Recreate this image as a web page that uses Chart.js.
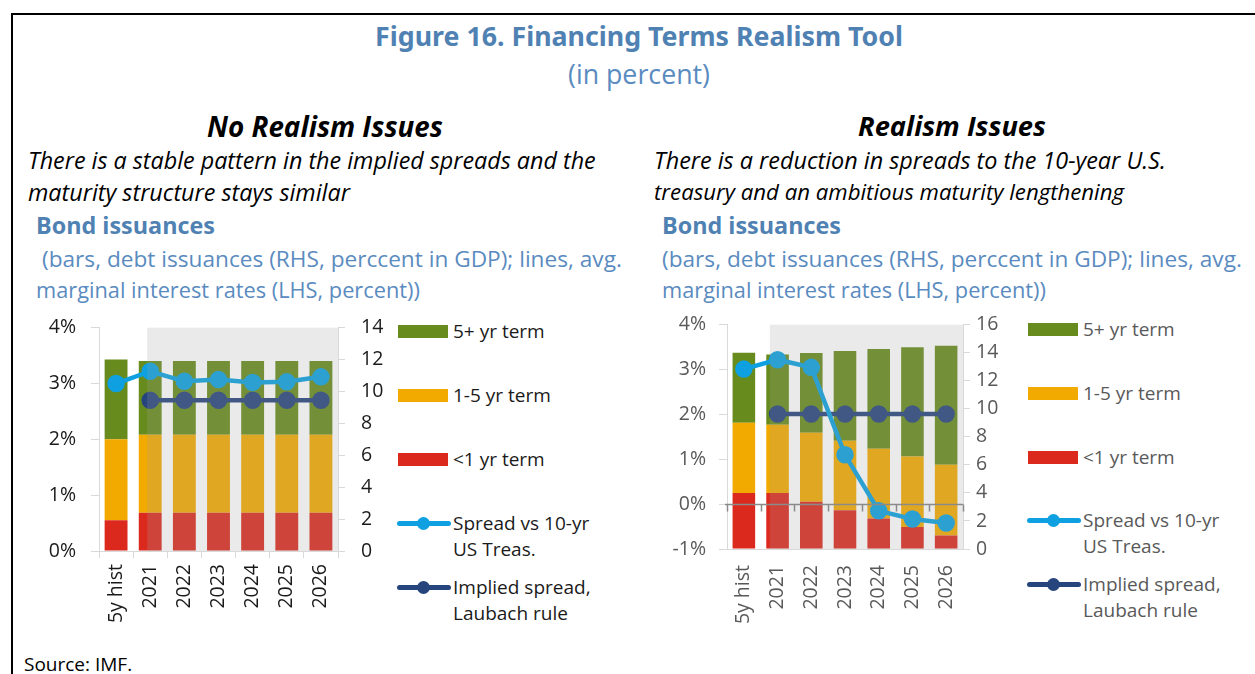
<!DOCTYPE html>
<html>
<head>
<meta charset="utf-8">
<script src="https://cdn.jsdelivr.net/npm/chart.js@4.4.1/dist/chart.umd.min.js"></script>
<style>
  body { margin: 0; background: #fff; font-family: "Open Sans", sans-serif; }
  #page { position: relative; width: 1255px; height: 674px; overflow: hidden; }
  #frame { position: absolute; left: 11px; top: 13px; width: 1300px; height: 700px; border: 2px solid #000; }
  .t { position: absolute; white-space: nowrap; }
  .c { transform: translateX(-50%); }
  .box { position: absolute; width: 312px; height: 340px; }
  .leg { position: absolute; font-size: 19px; line-height: 26px; white-space: nowrap; }
</style>
</head>
<body>
<div id="page">
  <div id="frame"></div>
  <div class="t c" data-w="528" style="left:639px;top:17px;font-size:26px;font-weight:bold;color:#4f81b3;font-family:'Noto Sans';">Figure 16. Financing Terms Realism Tool</div>
  <div class="t c" data-w="142" style="left:639px;top:55px;font-size:23px;color:#5a8bc0;">(in percent)</div>

  <div class="t c" data-w="236" style="left:325px;top:107px;font-size:25px;font-weight:bold;font-style:italic;">No Realism Issues</div>
  <div class="t" data-w="568" style="left:28px;top:144px;font-size:21px;font-style:italic;">There is a stable pattern in the implied spreads and the</div>
  <div class="t" data-w="322" style="left:28px;top:176px;font-size:21px;font-style:italic;">maturity structure stays similar</div>
  <div class="t" data-w="179" style="left:36px;top:209px;font-size:22px;font-weight:bold;color:#4f81b3;">Bond issuances</div>
  <div class="t" data-w="580" style="left:42px;top:243px;font-size:20px;color:#5a8bc0;">(bars, debt issuances (RHS, perccent in GDP); lines, avg.</div>
  <div class="t" data-w="384" style="left:36px;top:275px;font-size:20px;color:#5a8bc0;">marginal interest rates (LHS, percent))</div>

  <div class="t c" data-w="188" style="left:952px;top:107px;font-size:25px;font-weight:bold;font-style:italic;">Realism Issues</div>
  <div class="t" data-w="512" style="left:654px;top:144px;font-size:21px;font-style:italic;">There is a reduction in spreads to the 10-year U.S.</div>
  <div class="t" data-w="470" style="left:654px;top:176px;font-size:21px;font-style:italic;">treasury and an ambitious maturity lengthening</div>
  <div class="t" data-w="179" style="left:662px;top:209px;font-size:22px;font-weight:bold;color:#4f81b3;">Bond issuances</div>
  <div class="t" data-w="580" style="left:662px;top:243px;font-size:20px;color:#5a8bc0;">(bars, debt issuances (RHS, perccent in GDP); lines, avg.</div>
  <div class="t" data-w="384" style="left:662px;top:275px;font-size:20px;color:#5a8bc0;">marginal interest rates (LHS, percent))</div>

  <div class="box" style="left:0px;top:300px;width:395px;height:340px;"><canvas id="chartA"></canvas></div>
  <div class="box" style="left:630px;top:300px;width:380px;height:340px;"><canvas id="chartB"></canvas></div>
  <div id="legA"></div>
  <div id="legB"></div>

  <div class="t" style="left:24px;top:651px;font-size:19px;">Source: IMF.</div>
</div>
<script>
const categories = ['5y hist', '2021', '2022', '2023', '2024', '2025', '2026'];

// No realism issues: bars (RHS, percent of GDP)
const shortA = [1.93, 2.40, 2.40, 2.40, 2.40, 2.40, 2.40];
const midA = [5.07, 4.89, 4.89, 4.89, 4.89, 4.89, 4.89];
const longA = [5.00, 4.62, 4.62, 4.62, 4.62, 4.62, 4.62];
// lines (LHS, percent)
const spreadA = [3.00, 3.22, 3.04, 3.07, 3.02, 3.03, 3.12];
const impliedA = [null, 2.70, 2.70, 2.70, 2.70, 2.70, 2.70];

// Realism issues
const shortB = [4.00, 4.00, 3.37, 2.76, 2.18, 1.57, 0.96];
const midB = [5.00, 4.87, 4.93, 4.96, 4.98, 5.03, 5.05];
const longB = [5.00, 5.00, 5.69, 6.41, 7.11, 7.79, 8.49];
const spreadB = [3.01, 3.22, 3.05, 1.10, -0.15, -0.33, -0.42];
const impliedB = [null, 2.01, 2.01, 2.01, 2.01, 2.01, 2.01];

const leftTicksA = [0, 1, 2, 3, 4];
const leftTicksB = [-1, 0, 1, 2, 3, 4];

const GREEN = '#678c1d', ORANGE = '#f2a900', RED = '#dc291e';
const LBLUE = '#0ea0e0', NAVY = '#27457d';

// fit headline texts to the widths measured on the picture
document.querySelectorAll('[data-w]').forEach(el => {
  const target = +el.dataset.w;
  const fs = parseFloat(el.style.fontSize);
  el.style.fontSize = (fs * target / el.getBoundingClientRect().width).toFixed(2) + 'px';
});

// grey forecast shading + optional zero axis
const shadePlugin = {
  id: 'shade',
  afterDatasetsDraw(chart, args, opts) {
    const { ctx, chartArea } = chart;
    const x = chart.scales.x, y = chart.scales.y;
    const x0 = x.getPixelForValue(opts.from);
    ctx.save();
    ctx.fillStyle = 'rgba(161,161,161,0.22)';
    ctx.fillRect(x0, chartArea.top, chartArea.right - x0, chartArea.bottom - chartArea.top);
    if (opts.zeroLine) {
      const yz = Math.round(y.getPixelForValue(0)) + 0.5;
      ctx.strokeStyle = '#8a8a8a';
      ctx.lineWidth = 1.5;
      ctx.beginPath();
      ctx.moveTo(chartArea.left - 2, yz);
      ctx.lineTo(chartArea.right, yz);
      for (let i = 0; i <= categories.length; i++) {
        const xt = Math.round(x.getPixelForValue(i - 0.5)) + 0.5;
        ctx.moveTo(xt, yz);
        ctx.lineTo(xt, yz + 7);
      }
      ctx.stroke();
    }
    ctx.restore();
  }
};

function makeChart(id, d, cfg) {
  const tickFont = { family: 'Open Sans', size: 19.5 };
  const bar = (label, data, color) => ({
    type: 'bar', label, data, backgroundColor: color, yAxisID: 'y1',
    barPercentage: 0.67, categoryPercentage: 1, order: 2
  });
  const line = (label, data, color) => ({
    type: 'line', label, data, borderColor: color, backgroundColor: color, yAxisID: 'y',
    borderWidth: 4.5, pointRadius: 6.5, pointHoverRadius: 6.5, tension: 0, order: 1
  });
  return new Chart(document.getElementById(id), {
    data: {
      labels: categories,
      datasets: [
        bar('<1 yr term', d.short, RED),
        bar('1-5 yr term', d.mid, ORANGE),
        bar('5+ yr term', d.long, GREEN),
        line('Spread vs 10-yr US Treas.', d.spread, LBLUE),
        line('Implied spread, Laubach rule', d.implied, NAVY)
      ]
    },
    options: {
      responsive: true,
      maintainAspectRatio: false,
      animation: false,
      layout: { padding: { top: cfg.top, left: 0, right: 0, bottom: 0 } },
      plugins: {
        legend: { display: false },
        tooltip: { enabled: false },
        shade: { from: cfg.shadeFrom, zeroLine: cfg.zeroLine }
      },
      scales: {
        x: {
          stacked: true,
          grid: { display: true, offset: true, drawOnChartArea: false, drawTicks: cfg.xTicks, tickLength: 7, color: '#d9d9d9' },
          border: { color: '#d9d9d9' },
          ticks: { font: tickFont, color: cfg.textColor, maxRotation: 90, minRotation: 90, autoSkip: false, padding: cfg.xPad },
          afterFit: s => { s.height = cfg.xHeight; }
        },
        y: {
          position: 'left',
          min: cfg.yMin, max: cfg.yMax,
          afterBuildTicks: s => { s.ticks = cfg.leftTicks.map(v => ({ value: v })); },
          grid: { drawOnChartArea: false, tickLength: 8, color: '#d9d9d9' },
          border: { color: '#d9d9d9' },
          ticks: { font: tickFont, color: cfg.textColor, padding: cfg.yPad, callback: v => v + '%' },
          afterFit: s => { s.width = cfg.yWidth; }
        },
        y1: {
          position: 'right',
          stacked: true,
          min: 0, max: cfg.y1Max,
          ticks: { stepSize: 2, font: tickFont, color: cfg.textColor, padding: cfg.y1Pad },
          grid: { drawOnChartArea: false, tickLength: 7, color: '#d9d9d9' },
          border: { color: '#d9d9d9' },
          afterFit: s => { s.width = cfg.y1Width; }
        }
      }
    },
    plugins: [shadePlugin]
  });
}

const chartA = makeChart('chartA',
  { short: shortA, mid: midA, long: longA, spread: spreadA, implied: impliedA },
  { top: 23, xHeight: 89, yWidth: 99, y1Width: 57, yMin: 0, yMax: 4, y1Max: 14, leftTicks: leftTicksA,
    shadeFrom: 0.91, zeroLine: false, xTicks: true, xPad: 6, yPad: 15, y1Pad: 16, textColor: '#1a1a1a' });

const chartB = makeChart('chartB',
  { short: shortB, mid: midB, long: longB, spread: spreadB, implied: impliedB },
  { top: 21, xHeight: 91, yWidth: 97, y1Width: 47, yMin: -1, yMax: 4, y1Max: 16, leftTicks: leftTicksB,
    shadeFrom: 0.77, zeroLine: true, xTicks: false, xPad: 16, yPad: 13, y1Pad: 6, textColor: '#595959' });

// legends built from the chart datasets
function buildLegend(chart, el, left, rows, color) {
  const ds = chart.data.datasets;
  const order = [2, 1, 0, 3, 4];
  let html = '';
  order.forEach((idx, k) => {
    const d = ds[idx];
    const r = rows[k];
    if (d.type === 'bar') {
      html += `<div style="position:absolute;left:${left}px;top:${r - 6.5}px;width:50px;height:13px;background:${d.backgroundColor}"></div>`;
      html += `<div class="leg" style="left:${left + 55}px;top:${r - 13}px;color:${color}">${d.label}</div>`;
    } else {
      html += `<div style="position:absolute;left:${left - 1}px;top:${r - 2.5}px;width:54px;height:5px;border-radius:3px;background:${d.borderColor}"></div>`;
      html += `<div style="position:absolute;left:${left + 19}px;top:${r - 6.5}px;width:13px;height:13px;border-radius:50%;background:${d.borderColor}"></div>`;
      const parts = d.label.split(/(?<=10-yr|spread,) /);
      html += `<div class="leg" style="left:${left + 55}px;top:${r - 13}px;color:${color}">${parts.join('<br>')}</div>`;
    }
  });
  el.innerHTML = html;
}
buildLegend(chartA, document.getElementById('legA'), 398, [331, 395, 459, 523, 587], '#1a1a1a');
buildLegend(chartB, document.getElementById('legB'), 1028, [329, 393, 457, 520, 584], '#595959');
</script>
</body>
</html>
